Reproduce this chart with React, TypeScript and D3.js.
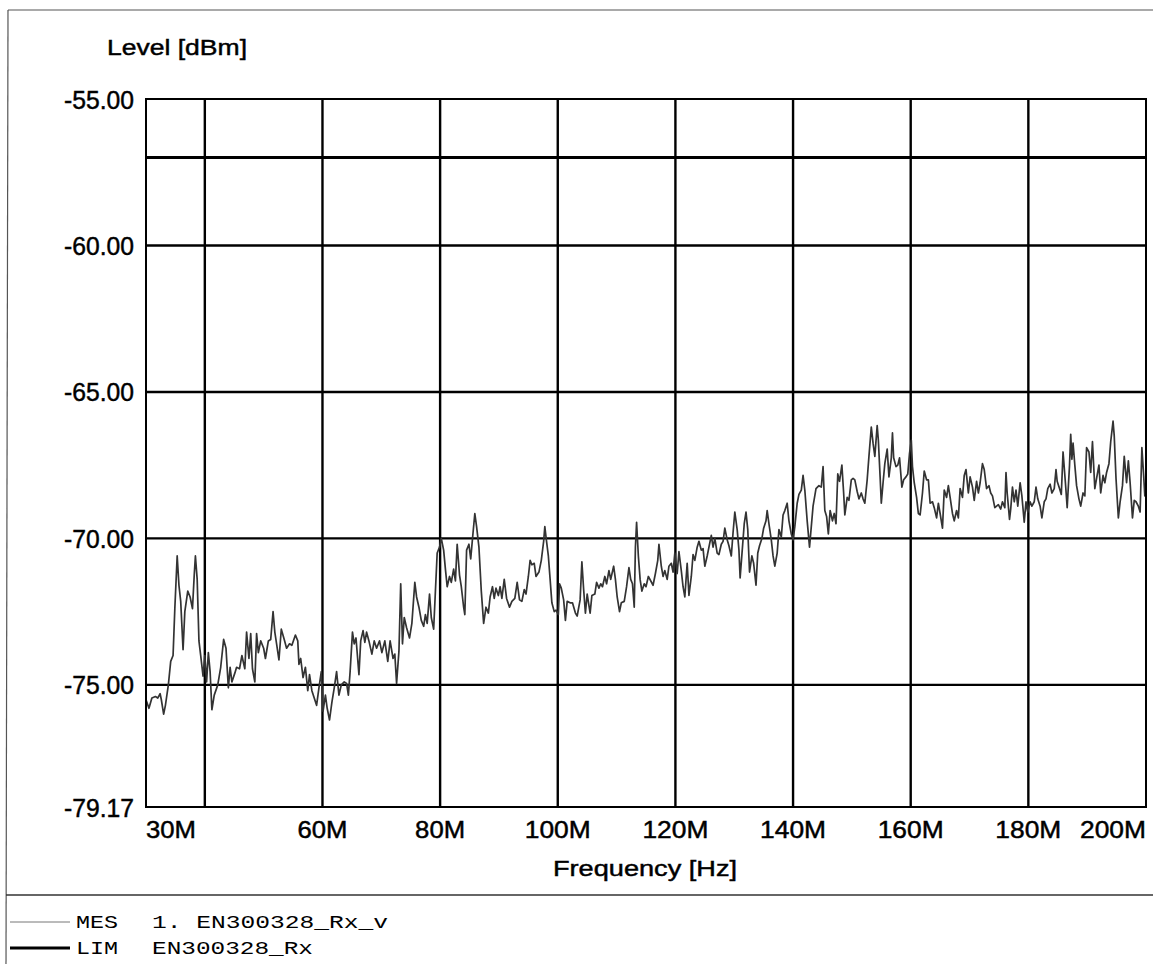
import React from "react";
import * as d3 from "d3";

// ---- data ----
const freqDomain: [number, number] = [30, 200]; // MHz
const levelDomain: [number, number] = [-79.17, -55];
const xGridMHz = [40, 60, 80, 100, 120, 140, 160, 180];
const xTickLabels = [
  { f: 30, label: "30M", anchor: "start" },
  { f: 60, label: "60M", anchor: "middle" },
  { f: 80, label: "80M", anchor: "middle" },
  { f: 100, label: "100M", anchor: "middle" },
  { f: 120, label: "120M", anchor: "middle" },
  { f: 140, label: "140M", anchor: "middle" },
  { f: 160, label: "160M", anchor: "middle" },
  { f: 180, label: "180M", anchor: "middle" },
  { f: 200, label: "200M", anchor: "end" },
];
const yTicks = [-55, -60, -65, -70, -75, -79.17];
const yGrid = [-60, -65, -70, -75];
const limitLevel = -57;

// MES trace: [frequency MHz, level dBm]
const mesTrace: [number, number][] = [
  [30.0,-75.51],[30.5,-75.8],[31.0,-75.45],[31.6,-75.4],[32.0,-75.45],[32.4,-75.3],[32.6,-75.5],[33.0,-76.0],[33.3,-75.7],[33.8,-75.0],[34.2,-74.2],[34.6,-74.0],[34.9,-72.4],[35.3,-70.6],[35.6,-71.6],[35.9,-72.15],[36.3,-73.8],[36.6,-72.5],[37.1,-71.8],[37.5,-72.0],[37.9,-72.4],[38.2,-71.25],[38.4,-70.6],[38.7,-71.4],[39.0,-73.5],[39.3,-74.0],[39.7,-74.7],[40.0,-74.0],[40.3,-74.9],[40.6,-73.9],[40.9,-74.55],[41.2,-75.85],[41.6,-75.35],[42.2,-75.0],[42.7,-74.4],[43.2,-73.45],[43.6,-73.75],[44.0,-75.1],[44.3,-74.4],[44.6,-74.9],[45.1,-74.6],[45.4,-74.4],[45.9,-74.45],[46.3,-74.0],[46.8,-74.45],[47.1,-73.2],[47.5,-74.1],[47.8,-73.25],[48.1,-74.45],[48.5,-74.9],[48.8,-73.25],[49.1,-73.9],[49.5,-73.5],[50.0,-73.75],[50.3,-74.1],[50.8,-73.5],[51.2,-73.45],[51.6,-72.5],[51.9,-73.2],[52.2,-73.6],[52.6,-74.15],[53.0,-73.1],[53.5,-73.45],[53.9,-73.75],[54.4,-73.6],[54.8,-73.65],[55.4,-73.3],[55.8,-73.5],[56.0,-74.3],[56.3,-74.1],[56.7,-74.75],[57.1,-74.4],[57.5,-75.2],[57.8,-74.65],[58.2,-75.2],
  [58.6,-75.45],[59.0,-75.7],[59.4,-75.1],[59.8,-74.55],[60.1,-75.9],[60.5,-75.35],[60.8,-75.8],[61.2,-76.2],[61.6,-75.6],[62.0,-75.1],[62.4,-74.55],[62.8,-75.35],[63.2,-75.0],[63.7,-74.9],[64.1,-74.95],[64.4,-75.35],[64.7,-74.55],[65.1,-73.2],[65.4,-73.6],[65.7,-73.4],[66.2,-74.65],[66.5,-73.5],[66.9,-73.15],[67.2,-73.55],[67.5,-73.2],[67.9,-73.5],[68.4,-73.95],[68.8,-73.5],[69.2,-73.75],[69.7,-73.5],[70.1,-73.9],[70.6,-73.5],[71.1,-74.2],[71.5,-73.5],[72.0,-74.1],[72.3,-73.95],[72.6,-74.95],[73.0,-73.85],[73.3,-71.55],[73.6,-73.6],[73.9,-72.7],[74.3,-73.05],[74.8,-73.4],[75.2,-72.9],[75.7,-71.5],[76.0,-72.0],[76.4,-72.35],[76.8,-72.8],[77.2,-73.0],[77.5,-72.6],[77.8,-72.9],[78.2,-71.9],[78.5,-72.7],[78.9,-73.1],[79.2,-71.8],[79.5,-70.5],[79.9,-70.3],[80.2,-70.0],[80.6,-70.4],[80.9,-71.05],[81.2,-71.65],[81.6,-71.3],[81.9,-71.5],[82.3,-71.05],[82.6,-71.45],[82.9,-70.2],[83.3,-71.25],[83.6,-71.65],[84.0,-72.35],[84.2,-72.6],[84.5,-70.4],[84.9,-70.2],[85.2,-70.7],[85.6,-69.8],[85.9,-69.15],[86.2,-69.6],[86.6,-70.3],[87.0,-71.8],[87.4,-72.9],
  [87.8,-72.35],[88.2,-72.55],[88.5,-72.0],[88.9,-71.65],[89.2,-72.05],[89.5,-71.7],[89.9,-71.95],[90.2,-71.65],[90.5,-72.05],[90.9,-71.4],[91.3,-72.05],[91.8,-72.35],[92.2,-72.15],[92.7,-72.05],[93.1,-71.5],[93.5,-72.1],[93.9,-72.15],[94.3,-71.75],[94.6,-71.9],[95.0,-71.3],[95.3,-70.75],[95.6,-70.9],[96.0,-70.85],[96.3,-71.3],[96.8,-71.15],[97.2,-70.75],[97.6,-70.1],[97.8,-69.6],[98.0,-69.95],[98.4,-70.6],[98.7,-71.4],[99.0,-72.2],[99.4,-72.5],[99.7,-72.45],[100.1,-72.6],[100.3,-71.55],[100.6,-71.7],[101.0,-72.1],[101.3,-72.8],[101.6,-72.15],[102.1,-72.2],[102.5,-72.2],[103.0,-72.55],[103.3,-72.65],[103.8,-72.1],[104.1,-70.8],[104.4,-71.75],[104.7,-72.55],[105.0,-71.9],[105.5,-72.55],[105.8,-71.95],[106.3,-71.9],[106.6,-71.5],[107.0,-71.7],[107.3,-71.55],[107.6,-71.65],[108.0,-71.3],[108.3,-71.55],[108.7,-71.1],[109.0,-71.4],[109.5,-70.95],[109.8,-71.4],[110.1,-72.0],[110.5,-72.5],[110.8,-72.2],[111.3,-72.15],[111.7,-71.65],[112.1,-71.0],[112.4,-71.4],[112.7,-71.55],[113.0,-72.35],[113.2,-70.3],[113.4,-69.45],[113.7,-70.6],[114.0,-71.4],[114.3,-71.8],[114.7,-71.55],[115.0,-71.65],[115.4,-71.3],
  [116.2,-71.6],[116.6,-71.2],[117.0,-70.75],[117.2,-70.2],[117.6,-70.95],[117.9,-71.3],[118.2,-71.1],[118.6,-71.4],[118.9,-70.95],[119.3,-70.85],[119.6,-71.15],[119.9,-70.5],[120.3,-71.2],[120.6,-70.45],[121.0,-71.1],[121.3,-71.65],[121.6,-72.0],[122.0,-70.85],[122.3,-71.95],[122.7,-71.3],[123.0,-70.55],[123.3,-70.75],[123.7,-70.3],[124.0,-70.1],[124.4,-70.4],[124.7,-70.35],[125.0,-70.95],[125.4,-70.6],[125.7,-70.3],[126.1,-69.9],[126.4,-70.3],[126.7,-70.0],[127.1,-70.5],[127.4,-70.55],[127.8,-70.2],[128.1,-70.1],[128.4,-69.65],[128.8,-70.05],[129.1,-70.25],[129.5,-70.6],[129.8,-69.8],[130.1,-69.1],[130.5,-69.7],[130.8,-70.4],[131.0,-71.35],[131.4,-70.3],[131.7,-69.5],[132.0,-69.1],[132.3,-69.7],[132.6,-71.15],[133.0,-70.6],[133.3,-70.85],[133.7,-71.6],[134.0,-70.5],[134.3,-70.25],[134.7,-70.0],[135.0,-69.65],[135.4,-69.4],[135.6,-69.05],[135.9,-69.5],[136.3,-70.05],[136.6,-70.6],[136.9,-70.95],[137.3,-70.5],[137.6,-69.7],[138.0,-69.95],[138.3,-69.2],[138.6,-69.05],[139.0,-68.8],[139.3,-69.4],[139.7,-69.85],[140.0,-70.05],[140.3,-69.6],[140.7,-68.8],[141.0,-68.5],[141.4,-68.35],[141.7,-67.85],[142.0,-68.35],[142.4,-69.4],[142.8,-70.3],
  [143.4,-68.9],[143.9,-68.3],[144.4,-68.2],[144.8,-68.25],[145.1,-67.55],[145.4,-69.05],[145.7,-69.25],[146.0,-69.85],[146.3,-69.05],[146.7,-69.4],[147.0,-69.15],[147.3,-69.5],[147.6,-67.8],[147.9,-68.05],[148.3,-67.5],[148.6,-68.45],[148.8,-69.2],[149.2,-68.6],[149.5,-68.7],[149.9,-68.0],[150.2,-67.95],[150.5,-68.0],[150.9,-68.4],[151.2,-68.65],[151.6,-68.45],[151.9,-68.65],[152.2,-68.8],[152.6,-68.0],[152.9,-67.2],[153.3,-66.2],[153.6,-66.75],[153.9,-67.2],[154.3,-66.15],[154.5,-66.65],[154.8,-67.9],[155.0,-68.8],[155.3,-68.1],[155.6,-67.45],[156.0,-66.95],[156.3,-67.9],[156.7,-67.25],[156.9,-66.4],[157.1,-67.25],[157.5,-67.55],[157.8,-67.5],[158.1,-67.25],[158.5,-68.25],[158.8,-68.0],[159.2,-67.9],[159.5,-67.8],[159.8,-67.1],[160.1,-66.65],[160.3,-67.55],[160.6,-68.1],[161.0,-68.6],[161.3,-69.15],[161.6,-69.2],[162.0,-68.45],[162.3,-67.7],[162.7,-68.0],[163.0,-68.0],[163.3,-68.8],[163.7,-68.75],[164.0,-68.95],[164.4,-69.3],[164.7,-68.8],[165.0,-69.15],[165.4,-69.65],[165.7,-68.35],[166.1,-68.6],[166.4,-68.2],[166.7,-68.6],[167.1,-69.15],[167.4,-69.4],[167.8,-69.05],[168.1,-69.3],[168.4,-68.3],[168.8,-68.6],[169.1,-67.85],[169.4,-67.65],[169.8,-68.45],[170.1,-67.9],[170.5,-68.25],[170.8,-68.7],[171.2,-68.05],[171.5,-68.45],[171.8,-68.1],[172.2,-67.45],[172.5,-67.65],
  [172.9,-68.3],[173.3,-68.2],[173.6,-68.45],[173.9,-68.55],[174.3,-68.95],[174.6,-68.9],[174.9,-68.85],[175.3,-69.0],[175.6,-68.75],[176.0,-68.95],[176.2,-67.75],[176.4,-68.45],[176.8,-69.35],[177.0,-69.0],[177.3,-68.25],[177.6,-68.75],[177.9,-68.35],[178.2,-68.9],[178.6,-68.1],[178.9,-68.55],[179.3,-69.45],[179.6,-68.75],[179.9,-69.1],[180.3,-68.75],[180.6,-68.9],[181.0,-68.75],[181.3,-68.25],[181.6,-68.65],[182.0,-68.9],[182.3,-69.3],[182.7,-68.75],[183.0,-68.65],[183.3,-68.3],[183.7,-68.15],[184.0,-68.45],[184.4,-68.3],[184.7,-67.65],[184.9,-68.05],[185.3,-68.3],[185.6,-68.5],[185.9,-67.05],[186.3,-68.1],[186.6,-68.95],[187.0,-67.5],[187.2,-66.45],[187.4,-67.3],[187.6,-66.75],[187.9,-67.5],[188.2,-68.2],[188.6,-68.65],[188.9,-68.9],[189.3,-68.45],[189.6,-68.55],[189.9,-66.9],[190.3,-67.05],[190.6,-67.75],[190.9,-66.7],[191.3,-68.3],[191.6,-67.95],[192.0,-67.5],[192.3,-68.45],[192.7,-67.85],[193.0,-68.1],[193.3,-67.75],[193.7,-67.45],[194.0,-66.7],[194.4,-66.0],[194.6,-66.5],[194.9,-67.95],[195.3,-69.3],[195.6,-68.75],[196.0,-68.2],[196.3,-67.2],[196.7,-68.1],[197.0,-67.35],[197.3,-68.1],[197.7,-69.3],[198.0,-68.7],[198.3,-68.75],[198.7,-68.9],[199.0,-69.1],[199.3,-66.9],[199.6,-67.85],[199.8,-68.55],[200.0,-68.1],
];

const legendItems = [
  { key: "MES", text: "1. EN300328_Rx_v", textWidth: 236, thick: false },
  { key: "LIM", text: "EN300328_Rx", textWidth: 161, thick: true },
];

const W = 1153;
const H = 964;
const plot = { left: 146, right: 1146, top: 99, bottom: 807 };
const SANS = "'Liberation Sans', Arial, sans-serif";
const MONO = "'Liberation Mono', 'Courier New', monospace";
const textHeavy = { stroke: "#000", strokeWidth: 0.45 };

export default function App() {
  const x = d3.scaleLinear().domain(freqDomain).range([plot.left, plot.right]);
  const y = d3.scaleLinear().domain(levelDomain).range([plot.bottom, plot.top]);
  const line = d3
    .line<[number, number]>()
    .x((d) => x(d[0]))
    .y((d) => y(d[1]));

  return (
    <svg
      width={W}
      height={H}
      style={{ position: "absolute", left: 0, top: 0, background: "#fff" }}
    >
      <rect x={0} y={0} width={W} height={H} fill="#fff" />
      {/* outer frame */}
      <line x1={8} y1={10} x2={W} y2={10} stroke="#555" strokeWidth={1.2} />
      <line x1={8} y1={10} x2={6} y2={H} stroke="#555" strokeWidth={1.2} />
      <line x1={6} y1={895} x2={W} y2={895} stroke="#333" strokeWidth={1.3} />

      {/* y axis title */}
      <text
        x={107}
        y={55}
        fontFamily={SANS}
        fontSize={22}
        textLength={140}
        lengthAdjust="spacingAndGlyphs"
        fill="#000"
        {...textHeavy}
      >
        Level [dBm]
      </text>

      {/* grid */}
      {xGridMHz.map((f) => (
        <line
          key={"vx" + f}
          x1={x(f)}
          x2={x(f)}
          y1={plot.top}
          y2={plot.bottom}
          stroke="#000"
          strokeWidth={2.4}
        />
      ))}
      {yGrid.map((v) => (
        <line
          key={"hy" + v}
          x1={plot.left}
          x2={plot.right}
          y1={y(v)}
          y2={y(v)}
          stroke="#000"
          strokeWidth={2.4}
        />
      ))}

      {/* MES trace */}
      <path
        d={line(mesTrace) || ""}
        fill="none"
        stroke="#333"
        strokeWidth={1.7}
        strokeLinejoin="round"
      />

      {/* limit line */}
      <line
        x1={plot.left}
        x2={plot.right}
        y1={y(limitLevel)}
        y2={y(limitLevel)}
        stroke="#000"
        strokeWidth={3}
      />

      {/* plot border */}
      <rect
        x={plot.left}
        y={plot.top}
        width={plot.right - plot.left}
        height={plot.bottom - plot.top}
        fill="none"
        stroke="#000"
        strokeWidth={2}
      />

      {/* y tick labels */}
      {yTicks.map((v) => (
        <text
          key={"yt" + v}
          x={134}
          y={y(v) + 9.5}
          textAnchor="end"
          fontFamily={SANS}
          fontSize={25}
          textLength={70}
          lengthAdjust="spacingAndGlyphs"
          fill="#000"
          {...textHeavy}
        >
          {v.toFixed(2)}
        </text>
      ))}

      {/* x tick labels */}
      {xTickLabels.map((t) => (
        <text
          key={"xt" + t.f}
          x={x(t.f)}
          y={838}
          textAnchor={t.anchor as any}
          fontFamily={SANS}
          fontSize={23}
          textLength={t.label.length === 3 ? 50 : 66}
          lengthAdjust="spacingAndGlyphs"
          fill="#000"
          {...textHeavy}
        >
          {t.label}
        </text>
      ))}

      {/* x axis title */}
      <text
        x={645}
        y={876}
        textAnchor="middle"
        fontFamily={SANS}
        fontSize={22}
        textLength={184}
        lengthAdjust="spacingAndGlyphs"
        fill="#000"
        {...textHeavy}
      >
        Frequency [Hz]
      </text>

      {/* legend */}
      {legendItems.map((it, i) => {
        const yy = 928 + i * 26;
        return (
          <g key={it.key}>
            <line
              x1={10}
              x2={70}
              y1={yy - 6}
              y2={yy - 6}
              stroke={it.thick ? "#000" : "#777"}
              strokeWidth={it.thick ? 3.2 : 1}
            />
            <text
              x={76}
              y={yy}
              fontFamily={MONO}
              fontSize={19}
              textLength={42}
              lengthAdjust="spacingAndGlyphs"
              fill="#000"
            >
              {it.key}
            </text>
            <text
              x={152}
              y={yy}
              fontFamily={MONO}
              fontSize={19}
              textLength={it.textWidth}
              lengthAdjust="spacingAndGlyphs"
              fill="#000"
            >
              {it.text}
            </text>
          </g>
        );
      })}
    </svg>
  );
}
